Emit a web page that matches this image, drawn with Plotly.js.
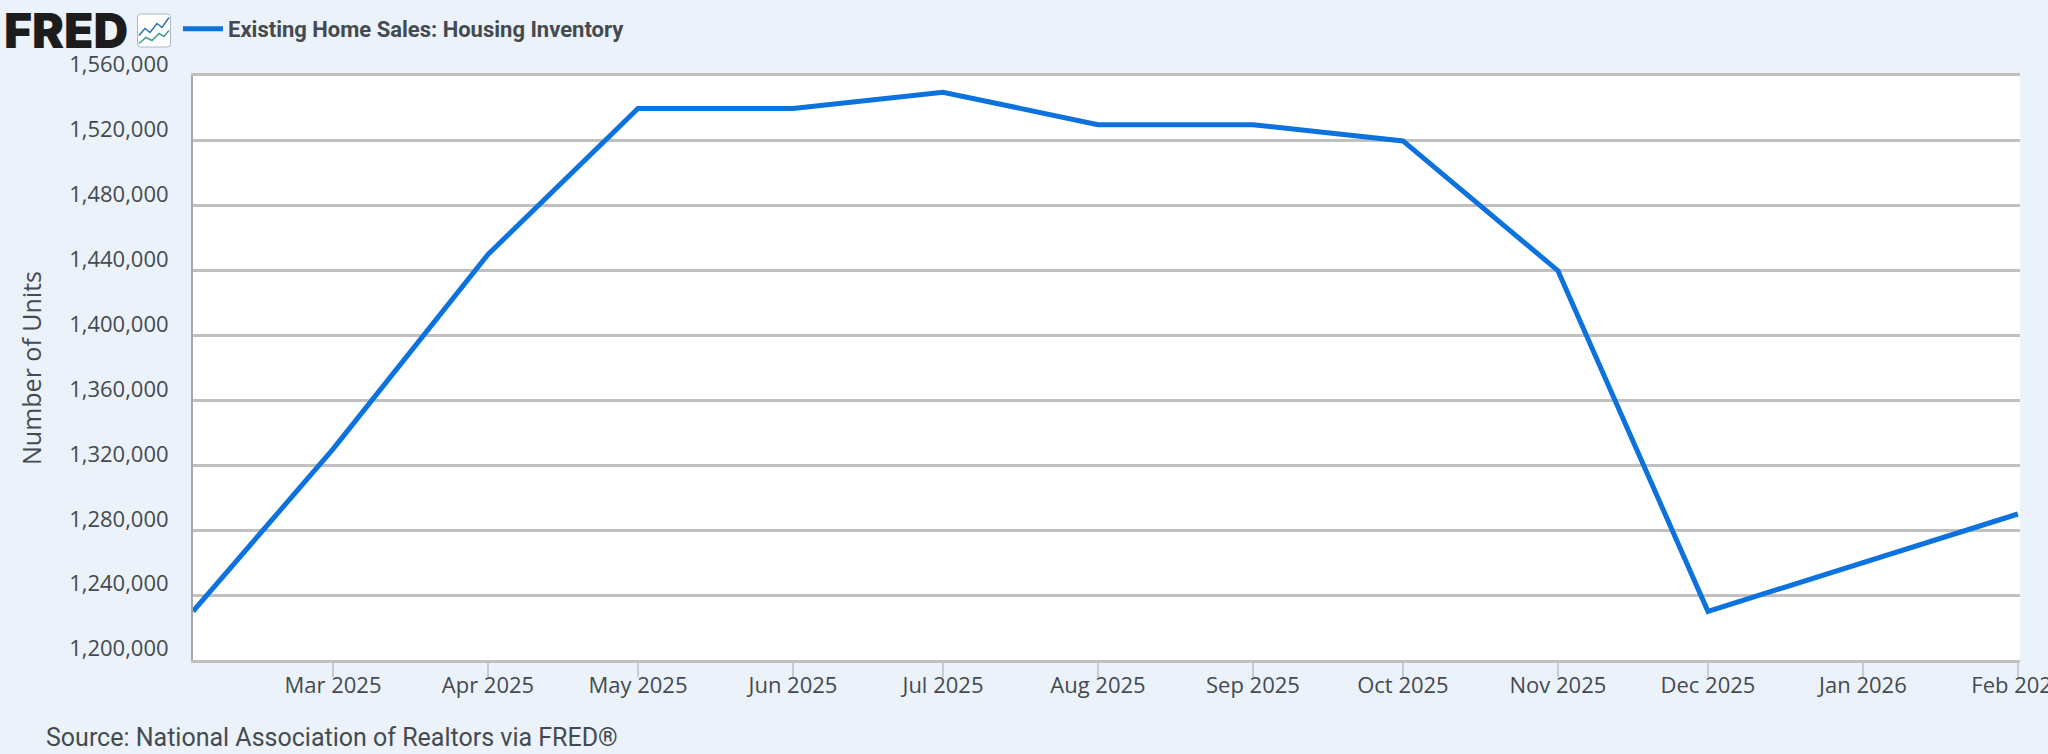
<!DOCTYPE html>
<html><head><meta charset="utf-8">
<script src="https://cdn.plot.ly/plotly-3.0.1.min.js"></script>
<style>html,body{margin:0;padding:0;background:#ebf2fa;overflow:hidden}#c{width:2048px;height:754px}</style>
</head><body><div id="c"></div>
<script>
const dates=["2025-02-01","2025-03-01","2025-04-01","2025-05-01","2025-06-01","2025-07-01","2025-08-01","2025-09-01","2025-10-01","2025-11-01","2025-12-01","2026-01-01","2026-02-01"];
const inventory=[1230000,1330000,1450000,1540000,1540000,1550000,1530000,1530000,1520000,1440000,1230000,1260000,1290000];
const seriesName="Existing Home Sales: Housing Inventory";
const xTicks=dates.slice(1);
const xLabels=["Mar 2025","Apr 2025","May 2025","Jun 2025","Jul 2025","Aug 2025","Sep 2025","Oct 2025","Nov 2025","Dec 2025","Jan 2026","Feb 2026"];
const yTicks=[1200000,1240000,1280000,1320000,1360000,1400000,1440000,1480000,1520000,1560000];
const icon="data:image/svg+xml;utf8,"+encodeURIComponent('<svg xmlns="http://www.w3.org/2000/svg" viewBox="0 0 34 34"><rect x="0.5" y="0.5" width="33" height="33" rx="3" fill="#fff" stroke="#aab8c6"/><polyline points="2,22 8,15 13,19 20,10 25,14 32,4" fill="none" stroke="#2f6fb5" stroke-width="1.5"/><polyline points="2,30 9,24 15,27 22,20 27,23 32,17" fill="none" stroke="#3f9e8f" stroke-width="1.5"/></svg>');
const ink="#444a50";
Plotly.newPlot("c",[{x:dates,y:inventory,name:seriesName,type:"scatter",mode:"lines",line:{color:"#0b72de",width:5,shape:"linear"}}],{
 width:2048,height:754,paper_bgcolor:"#ebf2fa",plot_bgcolor:"#ffffff",showlegend:true,
 font:{family:"'Open Sans',sans-serif",color:ink},
 margin:{l:193,r:28,t:76,b:94,pad:0},
 legend:{x:-15/1827,y:1-29/754,yref:"container",xanchor:"left",yanchor:"middle",orientation:"h",bgcolor:"rgba(0,0,0,0)",font:{family:"Roboto",size:22,color:ink,weight:700},itemwidth:40},
 xaxis:{type:"date",range:["2025-02-01","2026-02-01 10:00"],tickmode:"array",tickvals:xTicks,ticktext:xLabels,ticks:"outside",ticklen:14,tickwidth:1.5,tickcolor:"#c4ccd6",tickfont:{size:22,color:ink},ticklabeloverflow:"allow",ticklabelstandoff:-10,showgrid:false,showline:true,mirror:true,linecolor:"#c0c0c0",linewidth:3,zeroline:false,automargin:false},
 yaxis:{range:[1200000,1560000],tickmode:"array",tickvals:yTicks,tickformat:",d",ticks:"",ticklabelposition:"outside top",ticklabelstandoff:18,ticklabelshift:4,ticklabeloverflow:"allow",tickfont:{size:22,color:ink},gridcolor:"#c0c0c0",gridwidth:3,showline:true,linecolor:"#a8a8a8",linewidth:2,zeroline:false,automargin:false,
  title:{text:"Number of Units",font:{size:25,color:ink},standoff:20}},
 images:[{source:icon,xref:"x domain",yref:"paper",x:(137-193)/1827,y:(660-13)/584,sizex:34/1827,sizey:35/584,xanchor:"left",yanchor:"top",layer:"above"}],
 annotations:[
  {text:"FRED",xref:"paper",yref:"paper",x:-191/1827,y:(660-30)/584,xanchor:"left",yanchor:"middle",showarrow:false,font:{family:"Inter",size:48,color:"#1c1c1c",weight:900}},
  {text:"Source: National Association of Realtors via FRED®",xref:"paper",yref:"paper",x:-149/1827,y:(660-737)/584,xanchor:"left",yanchor:"middle",showarrow:false,font:{family:"Roboto",size:25,color:ink}}
 ]
},{displayModeBar:false,staticPlot:true});
</script></body></html>
